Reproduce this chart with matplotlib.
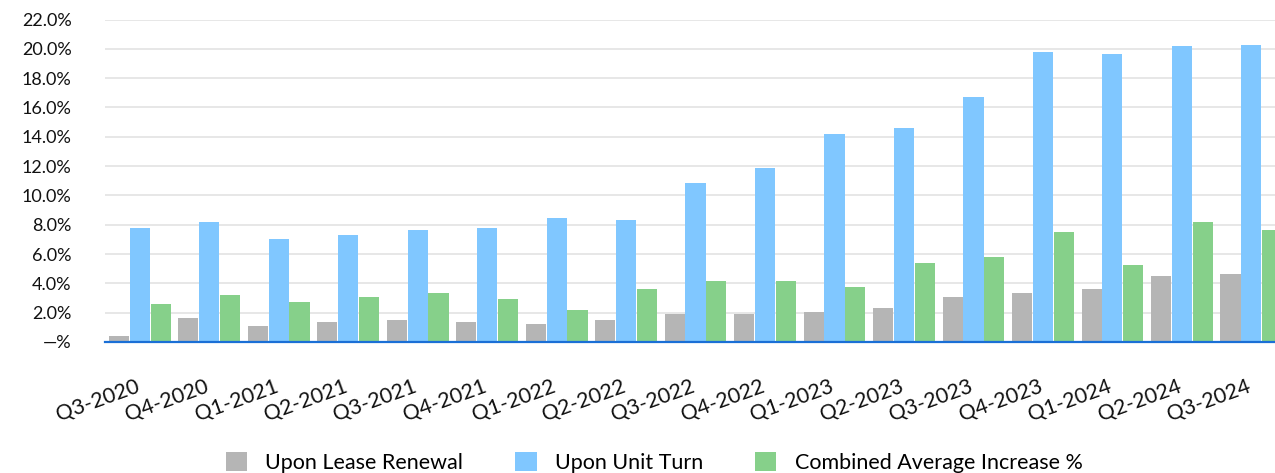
import matplotlib.pyplot as plt
import numpy as np
from matplotlib.ticker import FuncFormatter

# Quarterly rent increases (%)
quarters = ['Q3-2020', 'Q4-2020', 'Q1-2021', 'Q2-2021', 'Q3-2021', 'Q4-2021',
            'Q1-2022', 'Q2-2022', 'Q3-2022', 'Q4-2022', 'Q1-2023', 'Q2-2023',
            'Q3-2023', 'Q4-2023', 'Q1-2024', 'Q2-2024', 'Q3-2024']
lease_renewal = [0.44, 1.64, 1.11, 1.38, 1.51, 1.38, 1.24, 1.51, 1.91, 1.91,
                 2.04, 2.33, 3.05, 3.33, 3.62, 4.48, 4.62]
unit_turn = [7.76, 8.18, 7.05, 7.33, 7.62, 7.76, 8.44, 8.31, 10.88, 11.88,
             14.17, 14.62, 16.71, 19.79, 19.62, 20.16, 20.29]
combined = [2.62, 3.19, 2.76, 3.05, 3.33, 2.90, 2.19, 3.62, 4.18, 4.18,
            3.76, 5.38, 5.78, 7.48, 5.24, 8.18, 7.62]

plt.rcParams['font.family'] = ['Lato', 'DejaVu Sans']

fig = plt.figure(figsize=(12.75, 4.73), dpi=100)
ax = fig.add_axes([105 / 1275, 1 - 342 / 473, 1 - 105 / 1275, (342 - 19.5) / 473])

x = np.arange(len(quarters))
w = 0.29
step = 0.30
ax.bar(x - step, lease_renewal, w, color='#b5b5b5', label='Upon Lease Renewal', zorder=3)
ax.bar(x, unit_turn, w, color='#80c7ff', label='Upon Unit Turn', zorder=3)
ax.bar(x + step, combined, w, color='#86d08a', label='Combined Average Increase %', zorder=3)

ax.set_xlim(-0.5, 16.34)
ax.set_ylim(0, 22)
ax.set_yticks(np.arange(0, 23, 2))
ax.yaxis.set_major_formatter(FuncFormatter(lambda v, p: '—%' if v == 0 else f'{v:.1f}%'))
ax.grid(axis='y', color='#e3e3e3', linewidth=1.2, zorder=0)

for s in ['top', 'right', 'left']:
    ax.spines[s].set_visible(False)
ax.spines['bottom'].set_color('#1a6fd6')
ax.spines['bottom'].set_linewidth(1.6)
ax.spines['bottom'].set_zorder(4)

ax.tick_params(axis='y', length=0, labelsize=13, colors='#111111', pad=24)
ax.set_xticks(x - 0.07)
ax.set_xticklabels(quarters, rotation=20, ha='right', rotation_mode='anchor')
ax.tick_params(axis='x', length=0, labelsize=15.5, colors='#111111', pad=25)

fig.legend(loc='center', bbox_to_anchor=(0.513, 0.022), ncol=3, frameon=False,
           fontsize=15.5, handlelength=1.0, handleheight=1.0, handletextpad=0.85,
           columnspacing=2.4)

fig.savefig('out.png', dpi=100)
